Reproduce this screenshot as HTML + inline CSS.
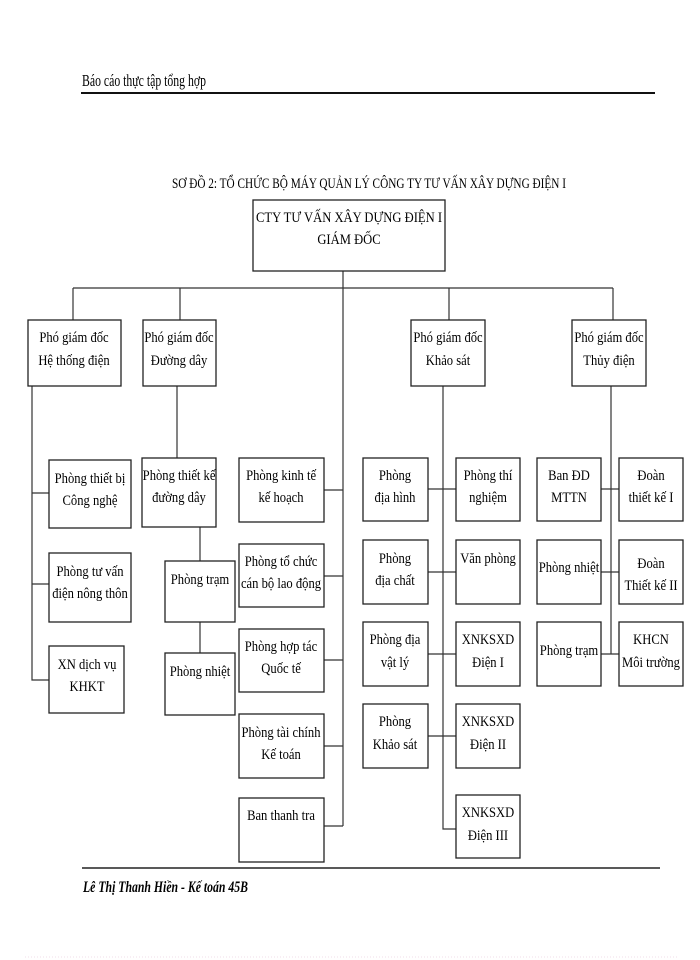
<!DOCTYPE html>
<html><head><meta charset="utf-8"><style>
html,body{margin:0;padding:0;background:#fff}
svg{display:block}
text{font-family:"Liberation Serif",serif;font-size:15px;fill:#000}
text.s{transform-box:fill-box;transform-origin:center;transform:scaleX(0.84)}
.b{fill:#fff;stroke:#222;stroke-width:1.3}
.l{stroke:#333;stroke-width:1.2;fill:none}
</style></head><body>
<svg width="700" height="960" viewBox="0 0 700 960" xmlns="http://www.w3.org/2000/svg">
<text x="82" y="86" style="font-size:17px" textLength="124" lengthAdjust="spacingAndGlyphs">Báo cáo thực tập tổng hợp</text>
<line x1="81" y1="93" x2="655" y2="93" stroke="#111" stroke-width="2"/>
<text x="172" y="188" style="font-size:15px" textLength="394" lengthAdjust="spacingAndGlyphs">SƠ ĐỒ 2: TỔ CHỨC BỘ MÁY QUẢN LÝ CÔNG TY TƯ VẤN XÂY DỰNG ĐIỆN I</text>

<g class="l">
<line x1="343" y1="271" x2="343" y2="826"/>
<line x1="73" y1="288" x2="613" y2="288"/>
<line x1="73" y1="288" x2="73" y2="320"/>
<line x1="180" y1="288" x2="180" y2="320"/>
<line x1="449" y1="288" x2="449" y2="320"/>
<line x1="613" y1="288" x2="613" y2="320"/>
<polyline points="32,386 32,680 49,680"/>
<line x1="32" y1="493" x2="49" y2="493"/>
<line x1="32" y1="584" x2="49" y2="584"/>
<line x1="177" y1="386" x2="177" y2="458"/>
<line x1="200" y1="527" x2="200" y2="561"/>
<line x1="200" y1="622" x2="200" y2="653"/>
<line x1="324" y1="490" x2="343" y2="490"/>
<line x1="324" y1="576" x2="343" y2="576"/>
<line x1="324" y1="660" x2="343" y2="660"/>
<line x1="324" y1="746" x2="343" y2="746"/>
<line x1="324" y1="826" x2="343" y2="826"/>
<polyline points="443,386 443,829 456,829"/>
<line x1="428" y1="489" x2="456" y2="489"/>
<line x1="428" y1="572" x2="456" y2="572"/>
<line x1="428" y1="654" x2="456" y2="654"/>
<line x1="428" y1="736" x2="456" y2="736"/>
<line x1="611" y1="386" x2="611" y2="654"/>
<line x1="601" y1="489" x2="619" y2="489"/>
<line x1="601" y1="572" x2="619" y2="572"/>
<line x1="601" y1="654" x2="619" y2="654"/>
</g>

<rect class="b" x="253" y="200" width="192" height="71"/>
<text class="s" x="349" y="222" text-anchor="middle">CTY TƯ VẤN XÂY DỰNG ĐIỆN I</text>
<text class="s" x="349" y="244" text-anchor="middle">GIÁM ĐỐC</text>

<rect class="b" x="28" y="320" width="93" height="66"/>
<text class="s" x="74" y="342" text-anchor="middle">Phó giám đốc</text><text class="s" x="74" y="365" text-anchor="middle">Hệ thống điện</text>
<rect class="b" x="143" y="320" width="73" height="66"/>
<text class="s" x="179" y="342" text-anchor="middle">Phó giám đốc</text><text class="s" x="179" y="365" text-anchor="middle">Đường dây</text>
<rect class="b" x="411" y="320" width="74" height="66"/>
<text class="s" x="448" y="342" text-anchor="middle">Phó giám đốc</text><text class="s" x="448" y="365" text-anchor="middle">Khảo sát</text>
<rect class="b" x="572" y="320" width="74" height="66"/>
<text class="s" x="609" y="342" text-anchor="middle">Phó giám đốc</text><text class="s" x="609" y="365" text-anchor="middle">Thủy điện</text>

<rect class="b" x="49" y="460" width="82" height="68"/>
<text class="s" x="90" y="483" text-anchor="middle">Phòng thiết bị</text><text class="s" x="90" y="505" text-anchor="middle">Công nghệ</text>
<rect class="b" x="49" y="553" width="82" height="69"/>
<text class="s" x="90" y="576" text-anchor="middle">Phòng tư vấn</text><text class="s" x="90" y="598" text-anchor="middle">điện nông thôn</text>
<rect class="b" x="49" y="646" width="75" height="67"/>
<text class="s" x="87" y="669" text-anchor="middle">XN dịch vụ</text><text class="s" x="87" y="691" text-anchor="middle">KHKT</text>

<rect class="b" x="142" y="458" width="74" height="69"/>
<text class="s" x="179" y="480" text-anchor="middle">Phòng thiết kế</text><text class="s" x="179" y="502" text-anchor="middle">đường dây</text>
<rect class="b" x="165" y="561" width="70" height="61"/>
<text class="s" x="200" y="584" text-anchor="middle">Phòng trạm</text>
<rect class="b" x="165" y="653" width="70" height="62"/>
<text class="s" x="200" y="676" text-anchor="middle">Phòng nhiệt</text>

<rect class="b" x="239" y="458" width="85" height="64"/>
<text class="s" x="281" y="480" text-anchor="middle">Phòng kinh tế</text><text class="s" x="281" y="502" text-anchor="middle">kế hoạch</text>
<rect class="b" x="239" y="544" width="85" height="63"/>
<text class="s" x="281" y="566" text-anchor="middle">Phòng tổ chức</text><text class="s" x="281" y="588" text-anchor="middle">cán bộ lao động</text>
<rect class="b" x="239" y="629" width="85" height="63"/>
<text class="s" x="281" y="651" text-anchor="middle">Phòng hợp tác</text><text class="s" x="281" y="673" text-anchor="middle">Quốc tế</text>
<rect class="b" x="239" y="714" width="85" height="64"/>
<text class="s" x="281" y="737" text-anchor="middle">Phòng tài chính</text><text class="s" x="281" y="759" text-anchor="middle">Kế toán</text>
<rect class="b" x="239" y="798" width="85" height="64"/>
<text class="s" x="281" y="820" text-anchor="middle">Ban thanh tra</text>

<rect class="b" x="363" y="458" width="65" height="63"/>
<text class="s" x="395" y="480" text-anchor="middle">Phòng</text><text class="s" x="395" y="502" text-anchor="middle">địa hình</text>
<rect class="b" x="363" y="540" width="65" height="64"/>
<text class="s" x="395" y="563" text-anchor="middle">Phòng</text><text class="s" x="395" y="585" text-anchor="middle">địa chất</text>
<rect class="b" x="363" y="622" width="65" height="64"/>
<text class="s" x="395" y="644" text-anchor="middle">Phòng địa</text><text class="s" x="395" y="667" text-anchor="middle">vật lý</text>
<rect class="b" x="363" y="704" width="65" height="64"/>
<text class="s" x="395" y="726" text-anchor="middle">Phòng</text><text class="s" x="395" y="749" text-anchor="middle">Khảo sát</text>

<rect class="b" x="456" y="458" width="64" height="63"/>
<text class="s" x="488" y="480" text-anchor="middle">Phòng thí</text><text class="s" x="488" y="502" text-anchor="middle">nghiệm</text>
<rect class="b" x="456" y="540" width="64" height="64"/>
<text class="s" x="488" y="563" text-anchor="middle">Văn phòng</text>
<rect class="b" x="456" y="622" width="64" height="64"/>
<text class="s" x="488" y="644" text-anchor="middle">XNKSXD</text><text class="s" x="488" y="667" text-anchor="middle">Điện I</text>
<rect class="b" x="456" y="704" width="64" height="64"/>
<text class="s" x="488" y="726" text-anchor="middle">XNKSXD</text><text class="s" x="488" y="749" text-anchor="middle">Điện II</text>
<rect class="b" x="456" y="795" width="64" height="63"/>
<text class="s" x="488" y="817" text-anchor="middle">XNKSXD</text><text class="s" x="488" y="840" text-anchor="middle">Điện III</text>

<rect class="b" x="537" y="458" width="64" height="63"/>
<text class="s" x="569" y="480" text-anchor="middle">Ban ĐD</text><text class="s" x="569" y="502" text-anchor="middle">MTTN</text>
<rect class="b" x="537" y="540" width="64" height="64"/>
<text class="s" x="569" y="572" text-anchor="middle">Phòng nhiệt</text>
<rect class="b" x="537" y="622" width="64" height="64"/>
<text class="s" x="569" y="655" text-anchor="middle">Phòng trạm</text>

<rect class="b" x="619" y="458" width="64" height="63"/>
<text class="s" x="651" y="480" text-anchor="middle">Đoàn</text><text class="s" x="651" y="502" text-anchor="middle">thiết kế I</text>
<rect class="b" x="619" y="540" width="64" height="64"/>
<text class="s" x="651" y="568" text-anchor="middle">Đoàn</text><text class="s" x="651" y="590" text-anchor="middle">Thiết kế II</text>
<rect class="b" x="619" y="622" width="64" height="64"/>
<text class="s" x="651" y="644" text-anchor="middle">KHCN</text><text class="s" x="651" y="667" text-anchor="middle">Môi trường</text>

<line x1="82" y1="868" x2="660" y2="868" stroke="#222" stroke-width="1.5"/>
<text x="83" y="892" style="font-size:16px;font-style:italic;font-weight:bold" textLength="165" lengthAdjust="spacingAndGlyphs">Lê Thị Thanh Hiền - Kế toán 45B</text>
<line x1="25" y1="957" x2="678" y2="957" stroke="#f0dde8" stroke-width="1" stroke-dasharray="1,2"/>
</svg>
</body></html>
